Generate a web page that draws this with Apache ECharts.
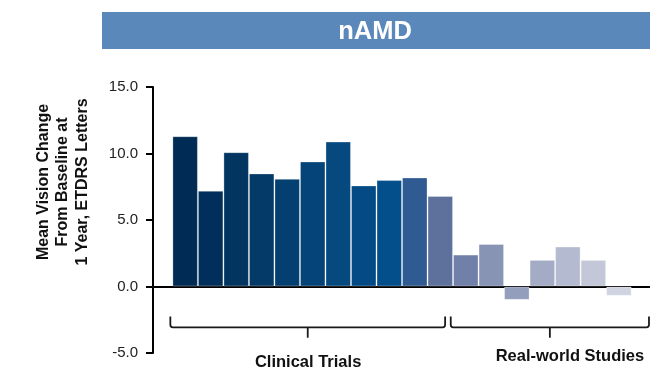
<!DOCTYPE html>
<html>
<head>
<meta charset="utf-8">
<script src="https://cdn.jsdelivr.net/npm/echarts@6/dist/echarts.min.js"></script>
<style>
  html, body { margin: 0; padding: 0; background: #ffffff; }
  #chart { width: 650px; height: 371px; }
</style>
</head>
<body>
<div id="chart"></div>
<script>
// Mean change in visual acuity at 1 year, one bar per study
const studyValues = [11.3, 7.2, 10.1, 8.5, 8.1, 9.4, 10.9, 7.6, 8.0, 8.2, 6.8,
                     2.4, 3.2, -1.0, 2.0, 3.0, 2.0, -0.7];
const studyColors = ['#002b54', '#012f5b', '#023560', '#033a68', '#033f70', '#044478',
                     '#05497f', '#044b86', '#024f8c', '#2f5a92', '#5e709c',
                     '#7180a8', '#8794b4', '#939ebd', '#a4acc5', '#b4bbd0', '#c3c7d7', '#d0d4e1'];
const yTicks = { min: -5, max: 15, step: 5 };

// Study groups: [first bar edge, last bar edge, label position, label]
const groupStart = [-0.58, 10.41];
const groupEnd = [10.19, 18.18];
const groupLabelX = [4.82, 15.08];
const groupLabels = ['Clinical Trials', 'Real-world Studies'];

const titleText = 'nAMD';
const yName = 'Mean Vision Change\nFrom Baseline at\n1 Year, ETDRS Letters';

const chart = echarts.init(document.getElementById('chart'), null, { renderer: 'canvas' });

const barData = studyValues.map((v, i) => ({
  value: [i, v],
  itemStyle: { color: studyColors[i] }
}));

const groupData = groupLabels.map((name, i) => [groupStart[i], groupEnd[i], groupLabelX[i], name]);

// Bracket under each study group with slightly rounded corners
function renderBracket(params, api) {
  const x0 = api.value(0), x1 = api.value(1), lx = api.value(2);
  const name = groupLabels[params.dataIndex];
  const mid = (x0 + x1) / 2;
  const yLine = -3.07, yTip = -2.25, yDrop = -3.85, yText = params.dataIndex === 0 ? -5.72 : -5.27;
  const pL = api.coord([x0, yLine]);
  const pLt = api.coord([x0, yTip]);
  const pR = api.coord([x1, yLine]);
  const pRt = api.coord([x1, yTip]);
  const pM = api.coord([mid, yLine]);
  const pMd = api.coord([mid, yDrop]);
  const pT = api.coord([lx, yText]);
  const r = 2.5;
  const d = 'M' + pLt[0] + ' ' + pLt[1] +
    ' L' + pL[0] + ' ' + (pL[1] - r) +
    ' Q' + pL[0] + ' ' + pL[1] + ' ' + (pL[0] + r) + ' ' + pL[1] +
    ' L' + (pR[0] - r) + ' ' + pR[1] +
    ' Q' + pR[0] + ' ' + pR[1] + ' ' + pR[0] + ' ' + (pR[1] - r) +
    ' L' + pRt[0] + ' ' + pRt[1];
  const style = { stroke: '#1a1a1a', lineWidth: 1.8, fill: null, lineJoin: 'round' };
  return {
    type: 'group',
    children: [
      { type: 'path', shape: { pathData: d }, style: style },
      { type: 'line', shape: { x1: pM[0], y1: pM[1], x2: pMd[0], y2: pMd[1] }, style: style },
      {
        type: 'text',
        x: pT[0], y: pT[1],
        style: {
          text: name,
          fill: '#111111',
          font: 'bold 16.5px Arial, "Liberation Sans", sans-serif',
          align: 'center',
          verticalAlign: 'middle'
        }
      }
    ]
  };
}

chart.setOption({
  animation: false,
  backgroundColor: '#ffffff',
  grid: { left: 153, right: 0, top: 87, bottom: 18 },
  xAxis: {
    type: 'value',
    min: -1.26,
    max: 18.22,
    axisLine: { show: true, onZero: true, lineStyle: { color: '#000000', width: 2 } },
    axisTick: { show: false },
    axisLabel: { show: false },
    splitLine: { show: false }
  },
  yAxis: {
    type: 'value',
    min: yTicks.min,
    max: yTicks.max,
    interval: yTicks.step,
    axisLine: { show: true, onZero: false, lineStyle: { color: '#000000', width: 2 } },
    axisTick: { show: true, length: 7, lineStyle: { color: '#000000', width: 2 } },
    axisLabel: {
      margin: 15,
      color: '#222222',
      fontSize: 15,
      fontFamily: 'Arial, "Liberation Sans", sans-serif',
      formatter: v => v.toFixed(1)
    },
    splitLine: { show: false }
  },
  graphic: [
    {
      type: 'rect',
      left: 102, top: 12,
      shape: { width: 548, height: 37 },
      style: { fill: '#5b88ba' }
    },
    {
      type: 'text',
      x: 375, y: 32,
      style: {
        text: titleText,
        fill: '#ffffff',
        font: 'bold 25.5px Arial, "Liberation Sans", sans-serif',
        align: 'center',
        verticalAlign: 'middle'
      }
    },
    {
      type: 'text',
      x: 63, y: 182,
      rotation: Math.PI / 2,
      style: {
        text: yName,
        fill: '#111111',
        font: 'bold 16px Arial, "Liberation Sans", sans-serif',
        lineHeight: 19.5,
        align: 'center',
        verticalAlign: 'middle'
      }
    }
  ],
  series: [
    {
      type: 'bar',
      data: barData,
      barWidth: 25.5,
      itemStyle: { borderColor: 'rgba(255,255,255,0.3)', borderWidth: 1 },
      z: 1
    },
    {
      type: 'custom',
      renderItem: renderBracket,
      data: groupData,
      clip: false,
      silent: true,
      z: 3
    }
  ]
});
</script>
</body>
</html>
